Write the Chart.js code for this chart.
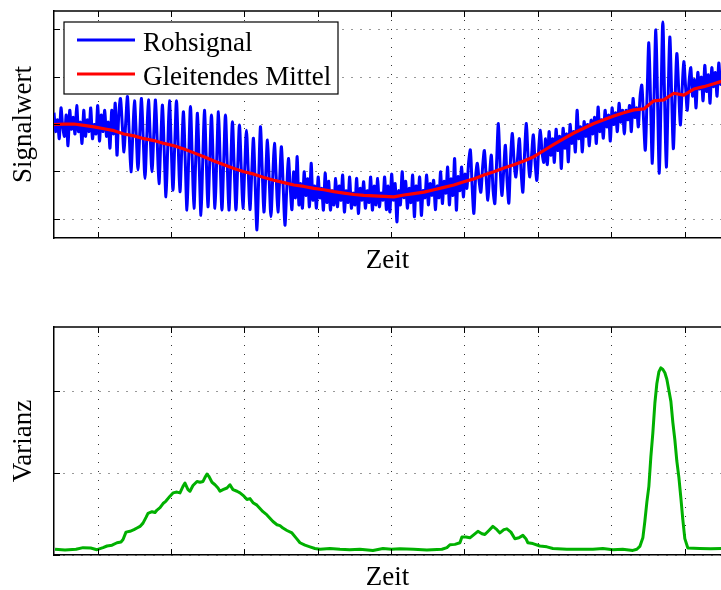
<!DOCTYPE html>
<html>
<head>
<meta charset="utf-8">
<script src="https://cdn.jsdelivr.net/npm/chart.js@4"></script>
<style>
html, body { margin: 0; padding: 0; background: #fff; overflow: hidden; width: 721px; height: 590px; }
#c1 { position: absolute; left: 0; top: 0; }
#c2 { position: absolute; left: 0; top: 288px; }
</style>
</head>
<body>
<canvas id="c1" width="721" height="290"></canvas>
<canvas id="c2" width="721" height="312"></canvas>
<script>
// ---------- data ----------
const xTicks = [0, 1, 2, 3, 4, 5, 6, 7, 8];
const xMin = -0.6;
const xMax = 8.49;
const signalTicks = [0, 1, 2, 3, 4];
const varianzTicks = [0, 1, 2];

// Rohsignal: sampled signal, constant sampling step
const rohStart = -0.6;
const rohStep = 0.023842;
const rohsignal = [
  // noisy start
  2.25, 1.85, 2.1, 1.7, 2.35, 1.95, 1.75, 2.2, 1.55, 2.3,
  1.9, 2.15, 1.8, 2.4, 1.85, 2.05, 1.6, 2.3, 1.75, 2.1,
  1.85, 2.35, 1.7, 2.0, 1.8, 2.4, 1.65, 2.2, 1.85, 2.3,
  1.75, 2.05, 1.5, 2.3, 1.8, 2.45, 1.35, 2.2,
  // growing oscillation
  2.55, 2.0, 1.42, 2.05, 2.59, 1.8, 1.0, 1.75, 2.5, 1.8,
  1.04, 1.8, 2.55, 1.7, 0.86, 1.7, 2.52, 1.75, 1.0, 1.75,
  2.52, 1.65, 0.75, 1.6, 2.41, 1.45, 0.47, 1.5, 2.5, 1.55,
  0.61, 1.55, 2.5, 1.55, 0.58, 1.45, 2.27, 1.25, 0.19, 1.3,
  2.38, 1.3, 0.23, 1.25, 2.24, 1.15, 0.08, 1.2, 2.3, 1.3,
  0.26, 1.2, 2.2, 1.2, 0.23, 1.25, 2.27, 1.2, 0.19, 1.2,
  2.2, 1.2, 0.19, 1.1, 2.06, 1.1, 0.19, 1.1, 1.99, 1.1,
  0.23, 1.05, 1.88, 1.05, 0.2, 0.95, 1.71, 0.75, -0.23, 0.85,
  1.95, 1.05, 0.15, 0.9, 1.67, 0.85, 0.05, 0.85, 1.6, 0.9,
  0.15, 0.85, 1.53, 0.7, -0.13, 0.6, 1.28, 0.7,
  // low band
  0.2, 1.0, 0.45, 1.32, 0.3, 0.75, 0.23, 1.0, 0.5, 0.85,
  0.26, 1.18, 0.4, 0.7, 0.23, 0.89, 0.45, 0.65, 0.19, 0.97,
  0.35, 0.8, 0.19, 0.6, 0.3, 0.86, 0.26, 0.7, 0.4, 0.93,
  0.15, 0.6, 0.35, 0.89, 0.23, 0.55, 0.3, 0.86, 0.12, 0.65,
  0.4, 0.79, 0.23, 0.6, 0.35, 0.89, 0.19, 0.7, 0.3, 0.86,
  0.26, 0.55, 0.4, 0.89, 0.2, 0.7, 0.15,
  // rising band
  0.95, 0.4, 0.75, -0.06, 0.6, 0.3, 1.0, 0.45, 0.8, 0.23,
  0.65, 0.35, 0.93, 0.05, 0.7, 0.4, 0.89, 0.08, 0.6, 0.45,
  0.93, 0.3, 0.75, 0.5, 0.82, 0.2, 0.7, 0.45, 1.0, 0.33,
  0.8, 0.55, 1.1, 0.3, 0.85, 0.5, 1.28, 0.19, 0.9, 0.6,
  1.1, 0.47, 0.95, 0.65, 1.2,
  // second oscillation group
  1.46, 0.7, 0.12, 0.9, 1.18, 0.8, 0.57, 1.1, 1.45, 0.9,
  0.4, 0.95, 1.35, 0.6, 0.33, 1.2, 2.02, 1.1, 0.5, 1.0,
  1.56, 0.8, 0.34, 1.3, 1.81, 1.2, 0.89, 1.3, 1.7, 1.0,
  0.57, 1.4, 2.02, 1.3, 0.89, 1.35, 1.78, 1.2, 0.82, 1.45,
  1.88, 1.4, 1.2, 1.7,
  // upper band
  1.15, 1.85, 1.35, 1.7, 1.2, 1.9, 1.45, 1.75, 1.07, 1.92,
  1.5, 1.8, 1.21, 2.0, 1.6, 1.85, 1.42, 2.3, 1.7, 1.95,
  1.42, 2.06, 1.75, 2.0, 1.55, 2.09, 1.8, 2.15, 1.6, 2.37,
  1.85, 2.1, 1.71, 2.3, 1.95, 2.2, 1.65, 2.35, 2.0, 2.25,
  1.85, 2.45, 2.05, 2.3, 1.8, 2.3, 2.1, 2.4, 1.85, 2.55,
  2.15, 2.35, 1.95, 2.59,
  // burst
  2.83, 2.1, 1.46, 2.6, 3.73, 2.5, 1.18, 2.6, 4.0, 2.5,
  0.97, 2.6, 4.17, 2.6, 1.1, 2.5, 3.85, 2.7, 1.49, 2.5,
  3.5, 2.8, 1.99, 2.7, 3.33, 2.8, 2.3, 2.9,
  // end band
  3.2, 2.6, 2.95, 2.35, 3.1, 2.75, 3.0, 2.5, 3.25, 2.7,
  3.05, 2.45, 3.2, 2.8, 3.1, 2.6, 3.3, 2.85, 3.1
];

// Gleitendes Mittel
const mittelStart = -0.6;
const mittelStep = 0.13624;
const mittel = [
  2.00, 2.01, 2.01, 1.98, 1.95, 1.91, 1.87, 1.80, 1.76, 1.70,
  1.66, 1.60, 1.55, 1.48, 1.40, 1.32, 1.23, 1.15, 1.07, 1.00,
  0.95, 0.88, 0.82, 0.77, 0.72, 0.69, 0.65, 0.62, 0.58, 0.55,
  0.52, 0.50, 0.49, 0.48, 0.47, 0.51, 0.54, 0.57, 0.62, 0.67,
  0.72, 0.79, 0.85, 0.93, 1.00, 1.08, 1.15, 1.23, 1.32, 1.45,
  1.58, 1.70, 1.82, 1.92, 2.02, 2.10, 2.18, 2.25, 2.31, 2.33,
  2.50, 2.52, 2.66, 2.62, 2.75, 2.80, 2.86, 2.93
];

// Varianz
const varianzZeit = [
  -0.586, -0.45, -0.30, -0.204, -0.10, -0.014, 0.068, 0.123, 0.191, 0.259,
  0.313, 0.341, 0.381, 0.436, 0.490, 0.531, 0.572, 0.613, 0.654, 0.681,
  0.736, 0.777, 0.804, 0.845, 0.886, 0.926, 0.981, 1.022, 1.076, 1.117,
  1.158, 1.185, 1.226, 1.253, 1.294, 1.349, 1.390, 1.431, 1.458, 1.485,
  1.512, 1.553, 1.594, 1.635, 1.662, 1.703, 1.757, 1.798, 1.839, 1.894,
  1.935, 1.989, 2.030, 2.071, 2.112, 2.166, 2.207, 2.248, 2.302, 2.343,
  2.384, 2.439, 2.480, 2.520, 2.575, 2.643, 2.698, 2.752, 2.820, 2.888,
  2.956, 3.025, 3.16, 3.297, 3.43, 3.569, 3.747, 3.883, 4.00, 4.114,
  4.30, 4.482, 4.687, 4.755, 4.796, 4.864, 4.932, 4.959, 5.014, 5.068,
  5.123, 5.177, 5.232, 5.272, 5.327, 5.381, 5.436, 5.477, 5.531, 5.572,
  5.627, 5.681, 5.736, 5.790, 5.831, 5.858, 5.926, 6.022, 6.117, 6.199,
  6.390, 6.55, 6.744, 6.88, 7.016, 7.15, 7.289, 7.343, 7.384, 7.425,
  7.452, 7.480, 7.507, 7.534, 7.561, 7.589, 7.616, 7.643, 7.670, 7.698,
  7.725, 7.752, 7.779, 7.807, 7.834, 7.861, 7.888, 7.916, 7.943, 7.970,
  7.997, 8.038, 8.20, 8.35, 8.50
];
const varianz = [
  0.07, 0.06, 0.07, 0.09, 0.085, 0.065, 0.09, 0.11, 0.12, 0.15,
  0.16, 0.19, 0.28, 0.29, 0.31, 0.33, 0.35, 0.39, 0.46, 0.51,
  0.53, 0.52, 0.55, 0.58, 0.63, 0.66, 0.72, 0.76, 0.77, 0.76,
  0.84, 0.88, 0.80, 0.78, 0.85, 0.90, 0.89, 0.90, 0.95, 0.99,
  0.96, 0.89, 0.86, 0.82, 0.78, 0.80, 0.82, 0.86, 0.80, 0.78,
  0.76, 0.72, 0.68, 0.69, 0.64, 0.61, 0.57, 0.53, 0.49, 0.45,
  0.41, 0.37, 0.36, 0.33, 0.30, 0.27, 0.21, 0.15, 0.12, 0.10,
  0.08, 0.07, 0.08, 0.07, 0.065, 0.07, 0.056, 0.08, 0.07, 0.075,
  0.07, 0.06, 0.07, 0.09, 0.125, 0.13, 0.15, 0.22, 0.22, 0.21,
  0.25, 0.29, 0.26, 0.25, 0.30, 0.35, 0.31, 0.27, 0.31, 0.32,
  0.28, 0.20, 0.21, 0.24, 0.20, 0.15, 0.14, 0.11, 0.10, 0.08,
  0.07, 0.07, 0.07, 0.08, 0.065, 0.07, 0.056, 0.07, 0.105, 0.21,
  0.41, 0.65, 0.84, 1.20, 1.49, 1.86, 2.10, 2.24, 2.29, 2.27,
  2.23, 2.15, 2.02, 1.88, 1.62, 1.41, 1.15, 0.95, 0.70, 0.43,
  0.20, 0.086, 0.08, 0.075, 0.08
];

// ---------- chart setup ----------
Chart.defaults.font.family = '"Liberation Serif", "Times New Roman", serif';
Chart.defaults.color = '#000';

const titleFont = { family: '"Liberation Serif", "Times New Roman", serif', size: 27, lineHeight: 1.2 };
const gridColor = 'rgba(0,0,0,0.8)';

function alignPx(p) { return Math.round(p - 0.5) + 0.5; }

const frame = {
  id: 'frame',
  afterDatasetsDraw(chart) {
    const { ctx, chartArea: a, scales } = chart;
    ctx.save();
    ctx.strokeStyle = '#000';
    ctx.lineWidth = 1.5;
    ctx.beginPath();
    ctx.moveTo(a.left, a.top);
    ctx.lineTo(a.right, a.top);
    ctx.stroke();
    ctx.lineWidth = 1;
    ctx.beginPath();
    scales.x.ticks.forEach(t => {
      const p = alignPx(scales.x.getPixelForValue(t.value));
      ctx.moveTo(p, a.bottom); ctx.lineTo(p, a.bottom - 6);
      ctx.moveTo(p, a.top); ctx.lineTo(p, a.top + 6);
    });
    scales.y.ticks.forEach(t => {
      const p = alignPx(scales.y.getPixelForValue(t.value));
      ctx.moveTo(a.left, p); ctx.lineTo(a.left + 6, p);
    });
    ctx.stroke();
    ctx.restore();
  }
};

const legendBox = {
  id: 'legendBox',
  afterDraw(chart) {
    const { ctx, chartArea: a } = chart;
    const x0 = a.left + 10, y0 = a.top + 11, w = 274, h = 72;
    ctx.save();
    ctx.fillStyle = '#fff';
    ctx.fillRect(x0, y0, w, h);
    ctx.strokeStyle = '#000';
    ctx.lineWidth = 1.2;
    ctx.strokeRect(x0, y0, w, h);
    ctx.font = '27px "Liberation Serif", "Times New Roman", serif';
    ctx.fillStyle = '#000';
    ctx.textBaseline = 'alphabetic';
    chart.data.datasets.forEach((ds, i) => {
      const ly = y0 + 18 + i * 34;
      ctx.strokeStyle = ds.borderColor;
      ctx.lineWidth = 3;
      ctx.beginPath();
      ctx.moveTo(x0 + 13, ly);
      ctx.lineTo(x0 + 71, ly);
      ctx.stroke();
      ctx.fillText(ds.label, x0 + 79, ly + 11);
    });
    ctx.restore();
  }
};

function axes(yTicks, yMin, yMax, yTitle, xPadTop) {
  return {
    x: {
      type: 'linear', min: xMin, max: xMax,
      afterBuildTicks: s => { s.ticks = xTicks.map(v => ({ value: v })); },
      ticks: { display: false },
      grid: { drawTicks: false, color: gridColor, lineWidth: 1 },
      border: { display: true, color: '#000', width: 1.5, dash: [1, 8] },
      title: { display: true, text: 'Zeit', color: '#000', font: titleFont, padding: { top: xPadTop, bottom: 0 } }
    },
    y: {
      type: 'linear', min: yMin, max: yMax,
      afterBuildTicks: s => { s.ticks = yTicks.map(v => ({ value: v })); },
      ticks: { display: false },
      grid: { drawTicks: false, color: gridColor, lineWidth: 1 },
      border: { display: true, color: '#000', width: 1.5, dash: [1, 8] },
      title: { display: true, text: yTitle, color: '#000', font: titleFont, padding: { top: 0, bottom: 13.8 } }
    }
  };
}

const commonPlugins = { legend: { display: false }, tooltip: { enabled: false } };

new Chart(document.getElementById('c1'), {
  type: 'line',
  data: {
    datasets: [
      {
        label: 'Rohsignal',
        data: rohsignal.map((v, i) => ({ x: rohStart + i * rohStep, y: v })),
        borderColor: '#0000ff', borderWidth: 3, pointRadius: 0, tension: 0.3,
        borderJoinStyle: 'round', order: 2
      },
      {
        label: 'Gleitendes Mittel',
        data: mittel.map((v, i) => ({ x: mittelStart + i * mittelStep, y: v })),
        borderColor: '#ff0000', borderWidth: 3.2, pointRadius: 0, tension: 0,
        borderJoinStyle: 'round', order: 1
      }
    ]
  },
  options: {
    responsive: false, animation: false, events: [],
    layout: { padding: { left: 7.8, top: 11, right: 0, bottom: 12.8 } },
    plugins: commonPlugins,
    scales: axes(signalTicks, -0.4, 4.4, 'Signalwert', 6.8)
  },
  plugins: [frame, legendBox]
});

new Chart(document.getElementById('c2'), {
  type: 'line',
  data: {
    datasets: [
      {
        label: 'Varianz',
        data: varianz.map((v, i) => ({ x: varianzZeit[i], y: v })),
        borderColor: '#00b000', borderWidth: 3, pointRadius: 0, tension: 0,
        borderJoinStyle: 'round'
      }
    ]
  },
  options: {
    responsive: false, animation: false, events: [],
    layout: { padding: { left: 7.8, top: 39, right: 0, bottom: 5.6 } },
    plugins: commonPlugins,
    scales: axes(varianzTicks, 0, 2.79, 'Varianz', 7.0)
  },
  plugins: [frame]
});
</script>
</body>
</html>
